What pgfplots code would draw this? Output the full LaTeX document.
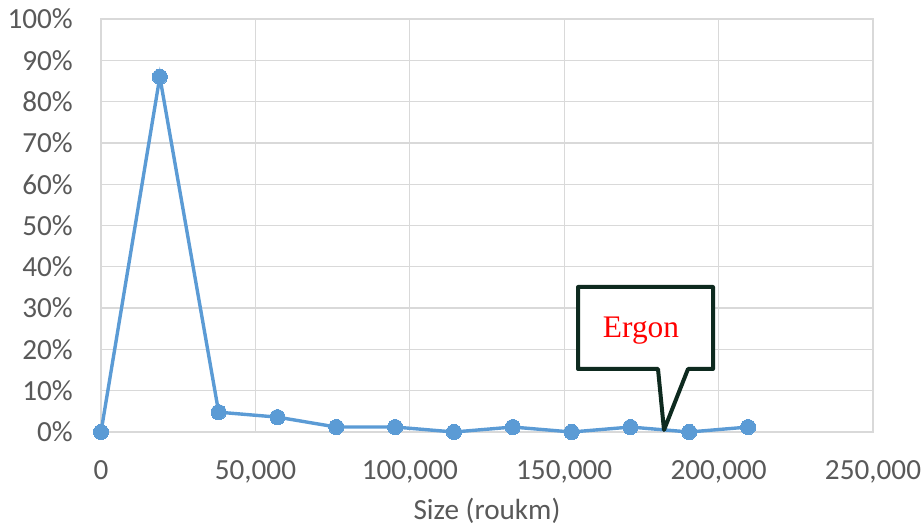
\documentclass[border=0pt]{standalone}
\usepackage{pgfplots}
\pgfplotsset{compat=1.18}
\usepackage{fontspec}
\setmainfont{Carlito}
\newfontfamily\serifergon{Liberation Serif}
\definecolor{txtgray}{HTML}{595959}
\definecolor{gridgray}{HTML}{D9D9D9}
\definecolor{series}{HTML}{5B9BD5}
\definecolor{callout}{HTML}{0E2A1F}
\begin{document}
\begin{tikzpicture}
\begin{axis}[
  at={(101bp,96bp)}, anchor=south west,
  scale only axis, width=772bp, height=413bp,
  xmin=0, xmax=250000, ymin=0, ymax=100,
  xtick={0,50000,100000,150000,200000,250000},
  xticklabels={0,{50,000},{100,000},{150,000},{200,000},{250,000}},
  ytick={0,10,...,100},
  yticklabels={0\%,10\%,20\%,30\%,40\%,50\%,60\%,70\%,80\%,90\%,100\%},
  scaled x ticks=false,
  major tick length=0pt,
  grid=major,
  major grid style={gridgray, line width=1.3bp},
  axis line style={gridgray, line width=1.3bp},
  tick label style={font=\fontsize{29.3}{35}\selectfont, text=txtgray, inner sep=0pt},
  xticklabel style={anchor=north, yshift=-28bp},
  yticklabel style={anchor=east, xshift=-28bp},
  xlabel={Size (roukm)},
  xlabel style={font=\fontsize{29.3}{35}\selectfont, text=txtgray, inner sep=0pt,
    at={(axis description cs:0.5,0)}, anchor=base, yshift=-87bp},
  clip=false,
]
\addplot[series, line width=3.4bp, mark=*, mark size=7.6bp, mark options={fill=series, draw=series, line width=0pt}]
coordinates {
(0,0) (19050,86) (38100,4.8) (57150,3.6) (76200,1.2) (95250,1.2)
(114300,0) (133350,1.2) (152400,0) (171450,1.2) (190500,0) (209550,1.2)
};
\end{axis}
\draw[callout, line width=4bp, line join=round, fill=white]
  (578bp,241bp) -- (713bp,241bp) -- (713bp,159bp) -- (688bp,159bp)
  -- (664bp,98bp) -- (658bp,159bp) -- (578bp,159bp) -- cycle;
\node[anchor=base, inner sep=0pt, text=red, font=\serifergon\fontsize{31.5}{36}\selectfont] at (641bp,190bp) {Ergon};
\pgfresetboundingbox
\path (0,0) rectangle (923bp,528bp);
\end{tikzpicture}
\end{document}
